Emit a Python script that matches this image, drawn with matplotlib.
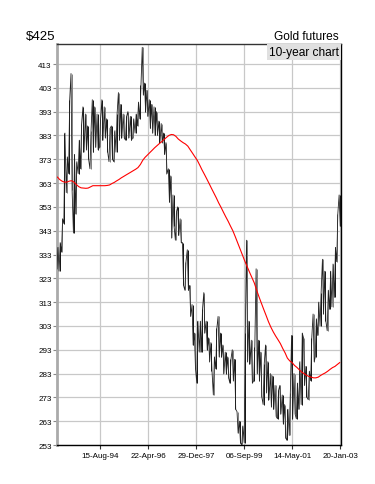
import datetime as dt
import matplotlib
matplotlib.use("Agg")
from matplotlib import pyplot as plt
import matplotlib.dates as mdates

plt.rcParams['font.family'] = ['Liberation Sans', 'DejaVu Sans']

# monthly high / low of gold futures, Feb 1993 .. Jan 2003
hi = [336, 338, 348, 384, 374, 398, 409, 375, 372, 381, 388,            # 1993
      395, 392, 387, 385, 398, 395, 392, 390, 398, 395, 390, 386,       # 1994
      387, 385, 392, 401, 396, 392, 391, 393, 391, 390, 392, 397,       # 1995
      404, 420, 405, 402, 398, 396, 395, 393, 389, 388, 384, 380,       # 1996
      369, 366, 358, 351, 353, 348, 338, 330, 335, 320, 312, 300,       # 1997
      305, 305, 310, 317, 305, 298, 296, 290, 302, 307, 300, 295,       # 1998
      292, 290, 289, 293, 289, 267, 263, 261, 300, 339, 305, 297,       # 1999
      294, 327, 297, 292, 287, 295, 288, 283, 282, 278, 276, 278,       # 2000
      274, 270, 268, 275, 299, 283, 279, 288, 300, 298, 286, 284,       # 2001
      298, 308, 306, 313, 317, 331, 326, 318, 326, 329, 336, 350,       # 2002
      358]                                                              # 2003
lo = [327, 326, 334, 346, 359, 367, 360, 342, 350, 367, 369,
      376, 377, 373, 369, 376, 378, 377, 378, 381, 382, 376, 372,
      373, 372, 376, 381, 382, 382, 381, 382, 381, 382, 384, 387,
      390, 400, 393, 391, 386, 384, 383, 383, 380, 380, 375, 367,
      355, 340, 345, 339, 341, 338, 320, 318, 318, 307, 295, 285,
      279, 292, 292, 300, 293, 288, 284, 274, 285, 290, 290, 283,
      283, 281, 279, 280, 268, 258, 254, 253, 254, 288, 287, 279,
      280, 283, 280, 273, 270, 275, 272, 269, 268, 265, 264, 266,
      262, 256, 255, 257, 264, 266, 264, 268, 270, 278, 273, 272,
      280, 288, 290, 299, 303, 308, 305, 301, 310, 311, 315, 330,
      345]
# moving average (red line), same months
ma = [365.5, 364.5, 363.8, 363.4, 363.4, 363.8, 364.0, 363.4, 362.4, 361.5, 361.0,
      360.9, 360.8, 360.9, 361.4, 361.9, 361.9, 361.9, 361.9, 361.9, 361.9, 362.0, 362.2,
      362.8, 363.3, 363.9, 364.5, 365.2, 365.8, 366.4, 367.0, 367.6, 368.2, 368.8, 369.5,
      370.8, 372.6, 373.8, 374.8, 375.8, 376.8, 377.8, 378.7, 379.6, 380.4, 381.3, 382.2,
      383.0, 383.4, 383.3, 382.6, 381.5, 380.7, 380.0, 379.4, 378.5, 377.0, 375.5, 374.0,
      372.5, 370.5, 368.6, 366.7, 364.8, 362.8, 360.8, 358.8, 356.8, 354.7, 352.8, 350.8,
      348.8, 346.9, 345.0, 343.0, 340.6, 338.0, 335.5, 332.9, 330.3, 328.0, 325.6, 323.4,
      321.1, 318.0, 315.3, 312.6, 310.0, 307.4, 304.8, 302.5, 300.5, 298.8, 297.2, 295.6,
      293.5, 291.6, 289.5, 288.3, 287.6, 286.4, 285.6, 284.6, 283.6, 283.0, 282.3, 281.8,
      281.5, 281.2, 281.2, 281.5, 282.2, 282.8, 283.3, 284.0, 284.8, 285.5, 286.0, 286.8,
      287.6]

tick_dates = [dt.date(1994, 8, 15), dt.date(1996, 4, 22), dt.date(1997, 12, 29),
              dt.date(1999, 9, 6), dt.date(2001, 5, 14), dt.date(2003, 1, 20)]
yticks = list(range(253, 414, 10))

# month dates
months = []
y, m = 1993, 2
for i in range(len(hi)):
    months.append(dt.date(y, m, 15))
    m += 1
    if m > 12:
        m = 1
        y += 1

fig = plt.figure(figsize=(3.75, 4.85), dpi=100)
ax = fig.add_axes([0.1528, 0.0804, 0.7557, 0.8268])

# zigzag price path: low/high each month
px, py = [], []
for i, d in enumerate(months):
    a = d - dt.timedelta(days=7)
    b = d + dt.timedelta(days=7)
    up = i + 1 < len(months) and (hi[i + 1] + lo[i + 1]) > (hi[i] + lo[i])
    if up:
        px += [a, b]
        py += [lo[i], hi[i]]
    else:
        px += [a, b]
        py += [hi[i], lo[i]]
cols = ['#111111' if i % 2 else '#808080' for i in range(len(months))]
ax.vlines(months, lo, hi, colors=cols, lw=0.7, zorder=3)
ax.plot(px, py, color='#222222', lw=0.6, zorder=4)
ax.plot(months, ma, color='red', lw=0.8, zorder=5)

ax.set_xlim(dt.date(1993, 2, 13), dt.date(2003, 1, 28))
ax.set_ylim(253, 421.4)
ax.set_yticks(yticks)
ax.set_yticklabels([str(v) for v in yticks], fontsize=5.8)
ax.set_xticks(tick_dates)
ax.xaxis.set_major_formatter(mdates.DateFormatter('%d-%b-%y'))
ax.tick_params(axis='x', labelsize=5.8, length=3, width=0.8, color='#333333', pad=2)
ax.tick_params(axis='y', length=3, width=0.8, color='#888888', pad=1)
ax.grid(True, color='#c8c8c8', lw=0.9, zorder=0)
ax.set_axisbelow(True)

ax.spines['left'].set_color('#aaaaaa')
ax.spines['left'].set_linewidth(2)
ax.spines['bottom'].set_color('black')
ax.spines['bottom'].set_linewidth(1)
ax.spines['top'].set_color('#333333')
ax.spines['top'].set_linewidth(1)
ax.spines['right'].set_color('black')
ax.spines['right'].set_linewidth(1)

fig.text(0.147, 0.912, '$425', fontsize=9.5, ha='right', va='bottom')
fig.text(0.902, 0.912, 'Gold futures', fontsize=8.6, ha='right', va='bottom')
ax.text(0.995, 0.995, '10-year chart', fontsize=8.6, ha='right', va='top',
        transform=ax.transAxes, zorder=6,
        bbox=dict(boxstyle='square,pad=0.15', fc='#e0e0e0', ec='none'))

fig.savefig('out.png', dpi=100)
